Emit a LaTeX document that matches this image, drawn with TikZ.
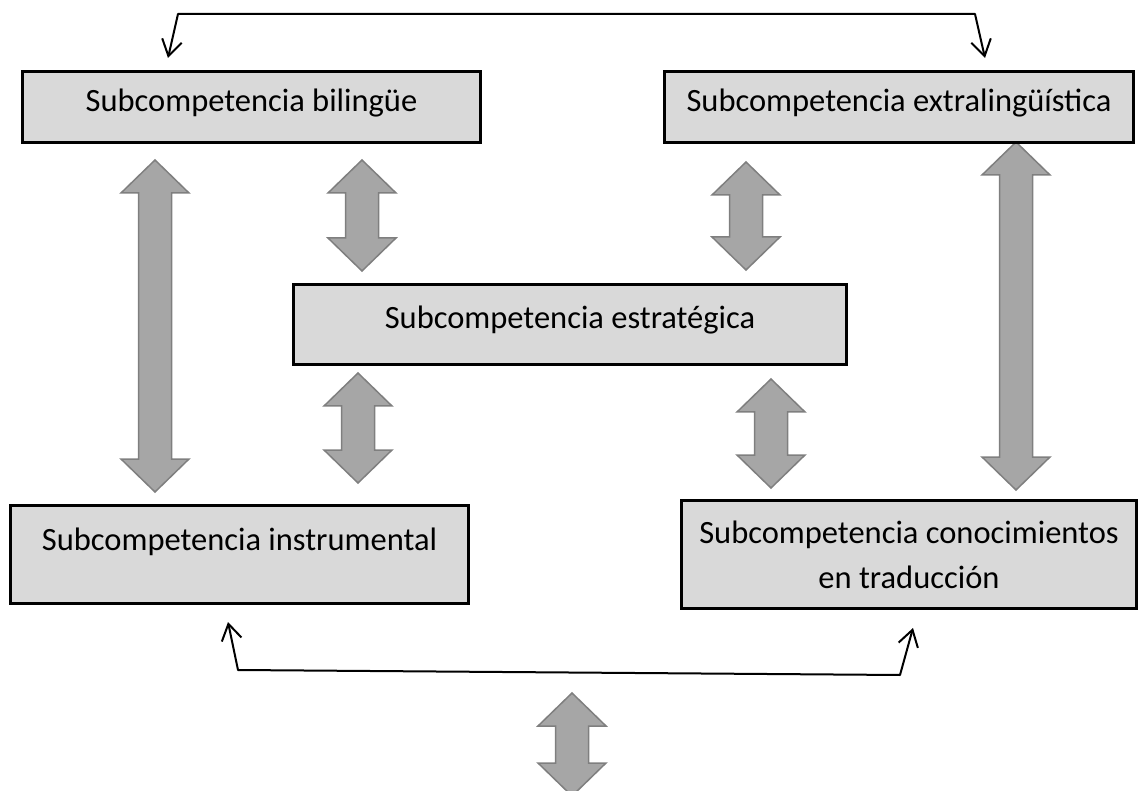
\documentclass[tikz,border=0pt]{standalone}
\usepackage{fontspec}
\setmainfont{Carlito}
\usetikzlibrary{arrows.meta,calc}
\definecolor{boxgray}{RGB}{217,217,217}
\definecolor{arrowfill}{RGB}{166,166,166}
\definecolor{arrowline}{RGB}{127,127,127}
\newcommand{\bigarrow}[2]{%
\draw[blockarrow] let \p1=(#1), \p2=(#2) in (\x1,\y1) -- (\x1+34pt,\y1-33pt) -- (\x1+16.5pt,\y1-33pt) -- (\x1+16.5pt,\y2+33pt) -- (\x1+34pt,\y2+33pt) -- (\x2,\y2) -- (\x1-34pt,\y2+33pt) -- (\x1-16.5pt,\y2+33pt) -- (\x1-16.5pt,\y1-33pt) -- (\x1-34pt,\y1-33pt) -- cycle;}

\begin{document}
\begin{tikzpicture}[line cap=round,>={Straight Barb[length=16pt,width=20pt]},x=1pt,y=-1pt,
subbox/.style={draw,line width=3pt,line join=miter,fill=boxgray,anchor=north west,inner sep=0pt,align=center,font=\fontsize{32.5}{45}\selectfont},
blockarrow/.style={fill=arrowfill,draw=arrowline,line width=1.5pt,line join=miter},
thinarrow/.style={line width=2pt,line join=round}]

\useasboundingbox (0,0) rectangle (1138,791);

\coordinate (a1t) at (155,160);
\coordinate (a1b) at (155,492);
\coordinate (a2t) at (362,160);
\coordinate (a2b) at (362,271);
\coordinate (a3t) at (746,162);
\coordinate (a3b) at (746,270);
\coordinate (a4t) at (1016,142);
\coordinate (a4b) at (1016,490);
\coordinate (a5t) at (358,373);
\coordinate (a5b) at (358,483);
\coordinate (a6t) at (771,379);
\coordinate (a6b) at (771,488);
\coordinate (a7t) at (572,693);
\coordinate (a7b) at (572,796);
\bigarrow{a1t}{a1b}
\bigarrow{a2t}{a2b}
\bigarrow{a3t}{a3b}
\bigarrow{a4t}{a4b}
\bigarrow{a5t}{a5b}
\bigarrow{a6t}{a6b}
\bigarrow{a7t}{a7b}

\node[subbox,minimum width=458pt,text height=40pt,text depth=31pt] (bil) at (21,70) {Subcompetencia bilingüe};
\node[subbox,minimum width=469pt,text height=40pt,text depth=31pt] (ext) at (663,70) {Subcompetencia extralingüística};
\node[subbox,minimum width=553pt,text height=44pt,text depth=36pt] (est) at (292,283) {Subcompetencia estratégica};
\node[subbox,minimum width=458pt,text height=45pt,text depth=53pt] (ins) at (9,504) {Subcompetencia instrumental};
\node[subbox,minimum width=455pt,text height=88pt,text depth=20pt] (con) at (680,499) {Subcompetencia conocimientos\\en traducción};

\coordinate (tipbil) at (168,58);
\coordinate (topl) at (178,14);
\coordinate (topr) at (975,14);
\coordinate (tipext) at (985,58);
\draw[thinarrow,<->] (tipbil) -- (topl) -- (topr) -- (tipext);

\coordinate (tipins) at (228,622);
\coordinate (botl) at (238,670);
\coordinate (botr) at (900,675);
\coordinate (tipcon) at (913,628);
\draw[thinarrow,<->] (tipins) -- (botl) -- (botr) -- (tipcon);

\end{tikzpicture}
\end{document}
